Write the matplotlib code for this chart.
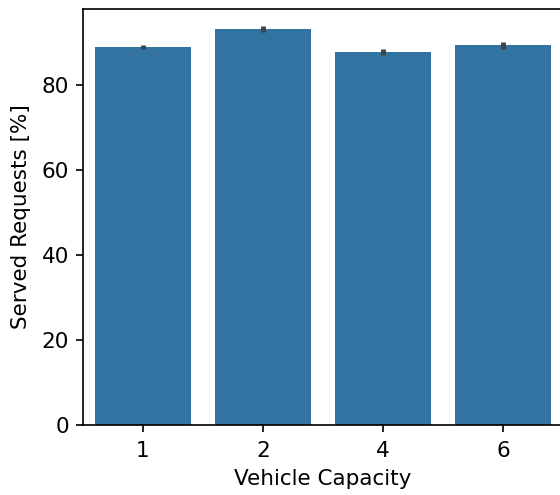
import numpy as np
import matplotlib
matplotlib.use("Agg")
import matplotlib.pyplot as plt

# served requests per vehicle capacity (mean and ci bounds)
capacity = ["1", "2", "4", "6"]
served_mean = [88.9, 93.2, 87.8, 89.4]
ci_low = [88.4, 92.5, 87.1, 88.6]
ci_high = [89.5, 93.9, 88.4, 90.2]

plt.rcParams["font.family"] = "DejaVu Sans"

fig = plt.figure(figsize=(5.6, 4.95), dpi=100)
ax = fig.add_axes([83 / 560, 70 / 495, 480 / 560, 416 / 495])

x = np.arange(len(capacity))
ax.bar(x, served_mean, width=0.8, color="#3274a1")
ax.vlines(x, ci_low, ci_high, color="#424242", linewidth=3.5)

ax.set_xlim(-0.5, len(capacity) - 0.5)
ax.set_ylim(0, 97.9)
ax.set_xticks(x)
ax.set_xticklabels(capacity)
ax.set_yticks([0, 20, 40, 60, 80])
ax.tick_params(labelsize=15.5, length=5, width=1.2, pad=5)
ax.tick_params(axis="x", pad=6.5)
ax.set_xlabel("Vehicle Capacity", fontsize=15.5, labelpad=6)
ax.set_ylabel("Served Requests [%]", fontsize=15.5, labelpad=8)
for s in ax.spines.values():
    s.set_linewidth(1.2)

fig.savefig("out.png", dpi=100)
